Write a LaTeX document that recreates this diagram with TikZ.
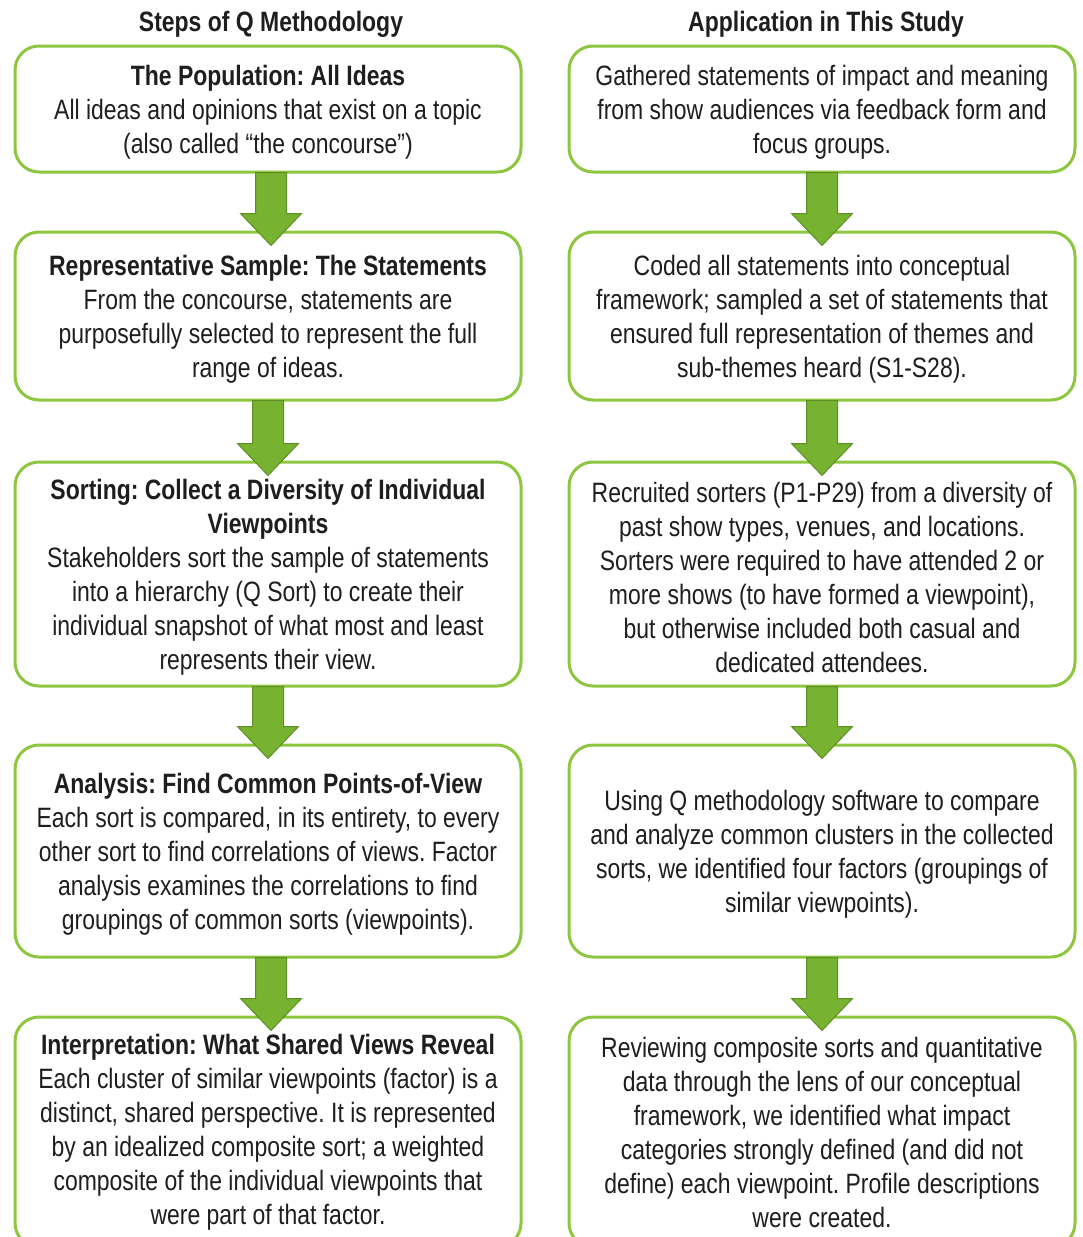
\documentclass[tikz,border=0pt]{standalone}
\usepackage{fontspec}
\setmainfont[FakeStretch=0.82]{Liberation Sans}
\usetikzlibrary{calc}
\definecolor{boxgreen}{HTML}{8DC63F}
\definecolor{arrfill}{HTML}{77B230}
\definecolor{arredge}{HTML}{5E8F25}
\definecolor{txt}{HTML}{1E1E1E}
\tikzset{
  qbox/.style={draw=boxgreen, line width=3pt, rounded corners=24pt, fill=white,
    minimum width=506pt, inner sep=0pt},
  qtext/.style={align=center, text=txt, inner sep=0pt,
    font=\fontsize{28}{34}\selectfont\frenchspacing},
  qhead/.style={text=txt, font=\fontsize{28}{34}\selectfont\bfseries, inner sep=0pt},
  qarr/.style={fill=arrfill, draw=arredge, line width=1pt, line join=miter}
}
\newcommand\qarrow[3]{%
  \draw[qarr] ($(#1.south)+(#3-15.5,-1)$) -- ($(#2.north)+(#3-15.5,-17)$)
    -- ($(#2.north)+(#3-30.5,-17)$) -- ($(#2.north)+(#3,15)$)
    -- ($(#2.north)+(#3+30.5,-17)$) -- ($(#2.north)+(#3+15.5,-17)$)
    -- ($(#1.south)+(#3+15.5,-1)$) -- cycle;}
\begin{document}
\begin{tikzpicture}[x=1pt,y=-1pt]
\useasboundingbox (0,0) rectangle (1082,1237);
\clip (0,0) rectangle (1082,1237);
\node[qhead] (hl) at (271,24) {Steps of Q Methodology};
\node[qhead] (hr) at (826,24) {Application in This Study};

% boxes
\node[qbox, minimum height=126pt] (L1) at (268,109) {};
\node[qbox, minimum height=168pt] (L2) at (268,316) {};
\node[qbox, minimum height=224pt] (L3) at (268,574) {};
\node[qbox, minimum height=212pt] (L4) at (268,851) {};
\node[qbox, minimum height=230pt] (L5) at (268,1132) {};
\node[qbox, minimum height=126pt] (R1) at (822,109) {};
\node[qbox, minimum height=168pt] (R2) at (822,316) {};
\node[qbox, minimum height=224pt] (R3) at (822,574) {};
\node[qbox, minimum height=212pt] (R4) at (822,851) {};
\node[qbox, minimum height=230pt] (R5) at (822,1132) {};

% left column texts
\node[qtext] (L1t) at ($(L1)+(0,3)$)
  {\textbf{The Population: All Ideas}\\All ideas and opinions that exist on a topic\\(also called “the concourse”)};
\node[qtext] (L2t) at ($(L2)+(0,3)$)
  {\textbf{Representative Sample: The Statements}\\From the concourse, statements are\\purposefully selected to represent the full\\range of ideas.};
\node[qtext] (L3t) at ($(L3)+(0,3)$)
  {\textbf{Sorting: Collect a Diversity of Individual}\\\textbf{Viewpoints}\\Stakeholders sort the sample of statements\\into a hierarchy (Q Sort) to create their\\individual snapshot of what most and least\\represents their view.};
\node[qtext] (L4t) at ($(L4)+(0,3)$)
  {\textbf{Analysis: Find Common Points-of-View}\\Each sort is compared, in its entirety, to every\\other sort to find correlations of views. Factor\\analysis examines the correlations to find\\groupings of common sorts (viewpoints).};
\node[qtext] (L5t) at ($(L5)+(0,0)$)
  {\textbf{Interpretation: What Shared Views Reveal}\\Each cluster of similar viewpoints (factor) is a\\distinct, shared perspective. It is represented\\by an idealized composite sort; a weighted\\composite of the individual viewpoints that\\were part of that factor.};

% right column texts
\node[qtext] (R1t) at ($(R1)+(0,3)$)
  {Gathered statements of impact and meaning\\from show audiences via feedback form and\\focus groups.};
\node[qtext] (R2t) at ($(R2)+(0,3)$)
  {Coded all statements into conceptual\\framework; sampled a set of statements that\\ensured full representation of themes and\\sub-themes heard (S1-S28).};
\node[qtext] (R3t) at ($(R3)+(0,3)$)
  {Recruited sorters (P1-P29) from a diversity of\\past show types, venues, and locations.\\Sorters were required to have attended 2 or\\more shows (to have formed a viewpoint),\\but otherwise included both casual and\\dedicated attendees.};
\node[qtext] (R4t) at ($(R4)+(0,3)$)
  {Using Q methodology software to compare\\and analyze common clusters in the collected\\sorts, we identified four factors (groupings of\\similar viewpoints).};
\node[qtext] (R5t) at ($(R5)+(0,0)$)
  {Reviewing composite sorts and quantitative\\data through the lens of our conceptual\\framework, we identified what impact\\categories strongly defined (and did not\\define) each viewpoint. Profile descriptions\\were created.};

\qarrow{L1}{L2}{3}
\qarrow{L2}{L3}{0}
\qarrow{L3}{L4}{0}
\qarrow{L4}{L5}{3}
\qarrow{R1}{R2}{0}
\qarrow{R2}{R3}{0}
\qarrow{R3}{R4}{0}
\qarrow{R4}{R5}{0}
\end{tikzpicture}
\end{document}
